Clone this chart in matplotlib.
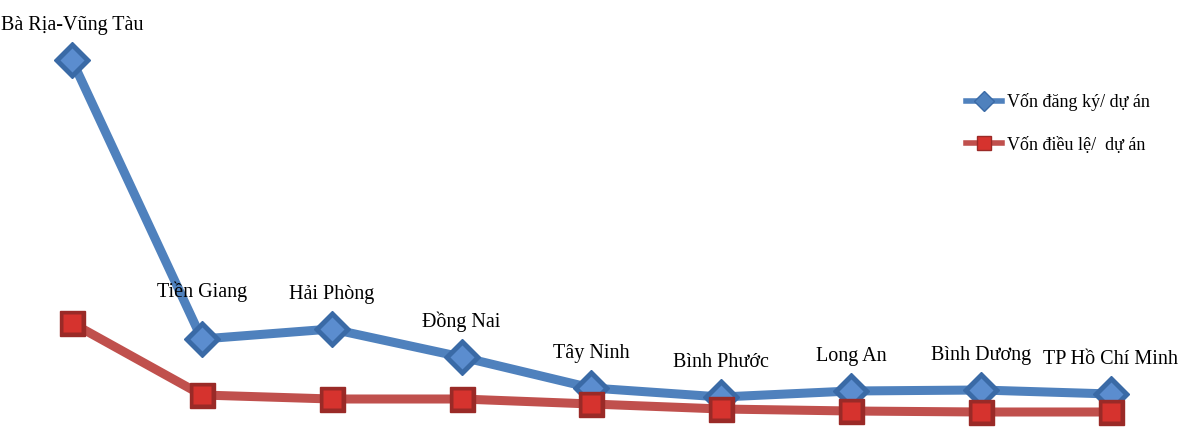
import matplotlib
matplotlib.use("Agg")
import matplotlib.pyplot as plt
from matplotlib.lines import Line2D

provinces = ["Bà Rịa-Vũng Tàu", "Tiền Giang", "Hải Phòng", "Đồng Nai", "Tây Ninh",
             "Bình Phước", "Long An", "Bình Dương", "TP Hồ Chí Minh"]
von_dang_ky = [365, 86, 96, 68, 37, 28, 34, 35, 31]
von_dieu_le = [102, 30, 26, 26, 21, 16, 14, 13, 13]

blue = "#4F81BD"
blue_edge = "#3A6AA6"
red = "#C0504D"
red_edge = "#9A2A27"

plt.rcParams["font.family"] = ["Liberation Serif", "DejaVu Serif"]

fig = plt.figure(figsize=(11.78, 4.29), dpi=100)
ax = fig.add_axes([0, 0, 1, 1])
x = list(range(len(provinces)))

ax.plot(x, von_dang_ky, color=blue, lw=6.5, zorder=2, solid_capstyle="round")
ax.plot(x, von_dang_ky, ls="none", marker="D", ms=18, mfc=blue_edge, mec=blue_edge, zorder=3)
ax.plot(x, von_dang_ky, ls="none", marker="D", ms=12, mfc="#5B8DCF", mec="none", zorder=3)

ax.plot(x, von_dieu_le, color=red, lw=6.5, zorder=4, solid_capstyle="round")
ax.plot(x, von_dieu_le, ls="none", marker="s", ms=18, mfc=red_edge, mec=red_edge, zorder=5)
ax.plot(x, von_dieu_le, ls="none", marker="s", ms=13, mfc="#D6332E", mec="none", zorder=5)

# Tiền Giang sits a bit higher to keep clear of the steep segment
extra = {"Tiền Giang": 12}
for xi, yi, name in zip(x, von_dang_ky, provinces):
    ax.annotate(name, (xi, yi), xytext=(0, 25 + extra.get(name, 0)), textcoords="offset pixels",
                ha="center", va="bottom", fontsize=14.5)

ax.set_xlim(-0.554, 8.516)
ax.set_ylim(-4, 425)
ax.axis("off")

handles = [
    Line2D([], [], color=blue, lw=4, marker="D", ms=10, mfc=blue, mec=blue_edge),
    Line2D([], [], color=red, lw=4, marker="s", ms=10, mfc="#D6332E", mec=red_edge),
]
ax.legend(handles, ["Vốn đăng ký/ dự án", "Vốn điều lệ/  dự án"], loc="upper left",
          bbox_to_anchor=(0.806, 0.82), frameon=False, fontsize=13,
          handlelength=2.0, handletextpad=0.3, labelspacing=1.4)

fig.savefig("out.png", dpi=100)
